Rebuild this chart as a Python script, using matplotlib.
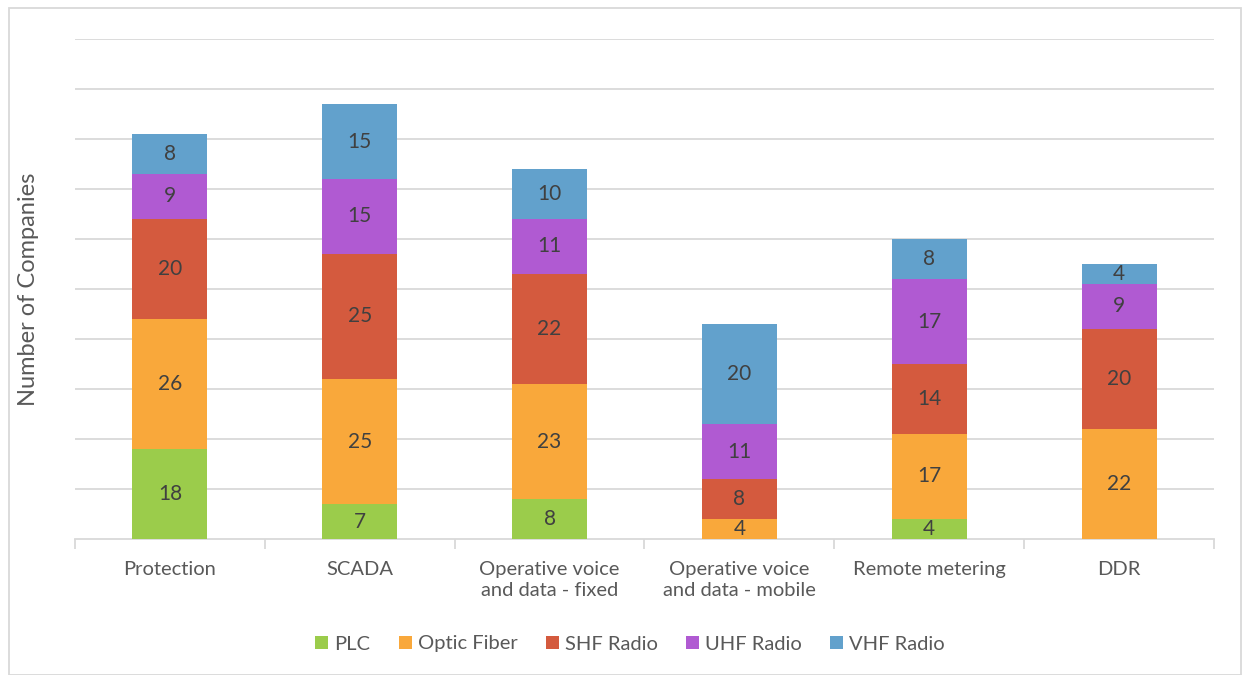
import numpy as np
import matplotlib.pyplot as plt
from matplotlib.patches import Rectangle

categories = ["Protection", "SCADA", "Operative voice\nand data - fixed",
              "Operative voice\nand data - mobile", "Remote metering", "DDR"]
series_names = ["PLC", "Optic Fiber", "SHF Radio", "UHF Radio", "VHF Radio"]
plc = [18, 7, 8, 0, 4, 0]
optic_fiber = [26, 25, 23, 4, 17, 22]
shf_radio = [20, 25, 22, 8, 14, 20]
uhf_radio = [9, 15, 11, 11, 17, 9]
vhf_radio = [8, 15, 10, 20, 8, 4]
colors = ["#9BCC4B", "#F9A83B", "#D45A3E", "#B05AD2", "#62A1CC"]

plt.rcParams['font.family'] = ['Lato', 'DejaVu Sans']

fig = plt.figure(figsize=(12.43, 6.75), dpi=100)
ax = fig.add_axes([75/1243, 1 - 539/675, 1139/1243, 500/675])

x = np.arange(len(categories))
width = 0.395
bottom = np.zeros(len(categories))
for name, vals, c in zip(series_names, [plc, optic_fiber, shf_radio, uhf_radio, vhf_radio], colors):
    vals = np.array(vals, dtype=float)
    ax.bar(x, vals, width, bottom=bottom, color=c, label=name, zorder=3)
    for xi, v, b in zip(x, vals, bottom):
        if v > 0:
            ax.text(xi, b + v / 2, f"{int(v)}", ha='center', va='center',
                    fontsize=15, color='#404040', zorder=4)
    bottom += vals

ax.set_xlim(-0.5, len(categories) - 0.5)
ax.set_ylim(0, 100)
ax.set_yticks(np.arange(10, 101, 10))
ax.yaxis.grid(True, color='#D9D9D9', linewidth=1.3, zorder=0)
ax.tick_params(axis='y', length=0, labelleft=False)
for s in ['top', 'right', 'left']:
    ax.spines[s].set_visible(False)
ax.spines['bottom'].set_color('#D9D9D9')
ax.spines['bottom'].set_linewidth(1.3)

ax.set_xticks(x)
ax.set_xticklabels(categories, fontsize=14.5, color='#595959', linespacing=1.3)
ax.tick_params(axis='x', length=0, pad=16)
ax.set_xticks(np.arange(-0.5, len(categories)), minor=True)
ax.tick_params(axis='x', which='minor', length=7, color='#D9D9D9', width=1.3)

ax.set_ylabel("Number of Companies", fontsize=17, color='#595959', labelpad=26)

handles, labels = ax.get_legend_handles_labels()
leg = fig.legend(handles, labels, loc='center', bbox_to_anchor=(630/1243, 1 - 644/675),
                 ncol=5, frameon=False, fontsize=14.5, handlelength=0.65, handleheight=0.65,
                 handletextpad=0.3, columnspacing=1.4)
for t in leg.get_texts():
    t.set_color('#595959')

fig.patches.append(Rectangle((9/1243, 0), 1232/1243, 1 - 8/675, transform=fig.transFigure,
                             fill=False, edgecolor='#D9D9D9', linewidth=1.3))

fig.savefig("out.png", dpi=100)
